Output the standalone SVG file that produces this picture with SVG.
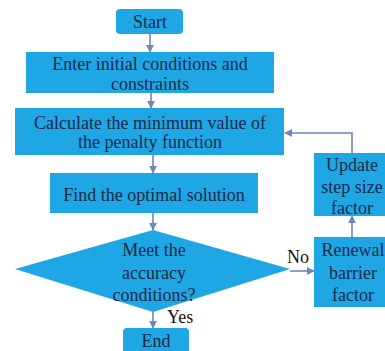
<svg xmlns="http://www.w3.org/2000/svg" width="385" height="351" viewBox="0 0 385 351">
<style>
.box{fill:#1ea7e4;}
.t{font-family:'Liberation Serif',serif;font-size:18px;fill:#1b2a48;text-anchor:middle;}
.lbl{font-family:'Liberation Serif',serif;font-size:18px;fill:#111111;}
.c{stroke:#6f86bd;stroke-width:1.6;fill:none;}
</style>
<defs>
<marker id="ah" viewBox="0 0 10 10" refX="9" refY="5" markerWidth="5" markerHeight="5" orient="auto">
<path d="M0,0 L10,5 L0,10 z" fill="#6f86bd"/>
</marker>
</defs>
<rect width="385" height="351" fill="#ffffff"/>
<g id="connectors">
<line class="c" x1="150" y1="34" x2="150" y2="52" marker-end="url(#ah)"/>
<line class="c" x1="151" y1="93" x2="151" y2="108" marker-end="url(#ah)"/>
<line class="c" x1="153" y1="155" x2="153" y2="173" marker-end="url(#ah)"/>
<line class="c" x1="153" y1="213" x2="153" y2="230" marker-end="url(#ah)"/>
<line class="c" x1="153" y1="312" x2="153" y2="328" marker-end="url(#ah)"/>
<line class="c" x1="290" y1="271" x2="314" y2="271" marker-end="url(#ah)"/>
<line class="c" x1="352" y1="237" x2="352" y2="216" marker-end="url(#ah)"/>
<polyline class="c" points="352,153 352,133 285,133" marker-end="url(#ah)"/>
<text class="lbl" x="287" y="263">No</text>
<text class="lbl" x="167" y="323">Yes</text>
</g>
<g id="start">
<rect class="box" x="116" y="9" width="67" height="25" rx="4"/>
<text class="t" x="150" y="28">Start</text>
</g>
<g id="enter">
<rect class="box" x="26" y="52" width="248" height="41"/>
<text class="t" x="150" y="70">Enter initial conditions and</text>
<text class="t" x="150" y="90">constraints</text>
</g>
<g id="calculate">
<rect class="box" x="15" y="108" width="269" height="47"/>
<text class="t" x="150" y="129">Calculate the minimum value of</text>
<text class="t" x="150" y="148">the penalty function</text>
</g>
<g id="find">
<rect class="box" x="50" y="173" width="208" height="40"/>
<text class="t" x="154" y="201">Find the optimal solution</text>
</g>
<g id="decision">
<polygon class="box" points="15,269 153,230 290,269 153,312"/>
<text class="t" x="154" y="256">Meet the</text>
<text class="t" x="154" y="279">accuracy</text>
<text class="t" x="154" y="301">conditions?</text>
</g>
<g id="end">
<rect class="box" x="123" y="328" width="66" height="30" rx="4"/>
<text class="t" x="156" y="347">End</text>
</g>
<g id="update">
<rect class="box" x="314" y="153" width="77" height="63"/>
<text class="t" x="352" y="171">Update</text>
<text class="t" x="352" y="193">step size</text>
<text class="t" x="352" y="214">factor</text>
</g>
<g id="renewal">
<rect class="box" x="314" y="237" width="77" height="70"/>
<text class="t" x="353" y="256">Renewal</text>
<text class="t" x="353" y="279">barrier</text>
<text class="t" x="353" y="301">factor</text>
</g>
</svg>
